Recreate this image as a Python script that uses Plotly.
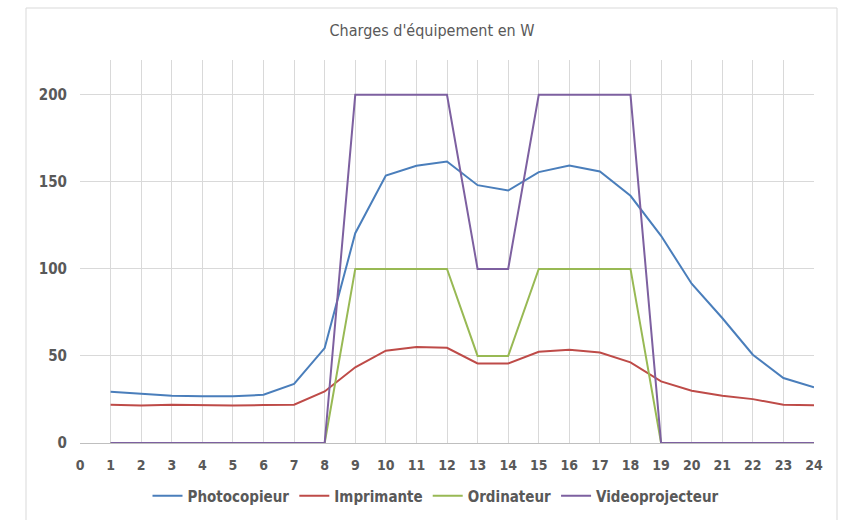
import plotly.graph_objects as go

# Hours of the day (data recorded from hour 1 to 24)
hours = list(range(1, 25))

# Equipment loads in W
photocopieur = [29.4, 28.1, 27.2, 26.8, 26.8, 27.7, 33.9, 54.5, 120.5, 153.6, 159.2, 161.7,
                148.1, 145.0, 155.6, 159.4, 156.0, 142.0, 119.0, 91.5, 71.8, 50.7, 37.3, 32.0]
imprimante = [22.0, 21.6, 22.0, 21.7, 21.5, 21.8, 22.0, 29.6, 43.5, 53.0, 55.1, 54.7,
              45.7, 45.7, 52.4, 53.6, 52.0, 46.3, 35.4, 30.0, 27.2, 25.2, 22.0, 21.7]
ordinateur = [0, 0, 0, 0, 0, 0, 0, 0, 100, 100, 100, 100,
              50, 50, 100, 100, 100, 100, 0, 0, 0, 0, 0, 0]
videoprojecteur = [0, 0, 0, 0, 0, 0, 0, 0, 200, 200, 200, 200,
                   100, 100, 200, 200, 200, 200, 0, 0, 0, 0, 0, 0]

x_ticks = list(range(0, 25))
y_ticks = [0, 50, 100, 150, 200]

series = [
    ("Photocopieur", photocopieur, "#4A7EBB"),
    ("Imprimante", imprimante, "#BE4B48"),
    ("Ordinateur", ordinateur, "#98B954"),
    ("Videoprojecteur", videoprojecteur, "#7D60A0"),
]

FONT = "DejaVu Sans Condensed, Open Sans, sans-serif"
TXT = "#595959"

fig = go.Figure()
for name, values, color in series:
    fig.add_trace(go.Scatter(x=hours, y=values, name=name, mode="lines",
                             line=dict(color=color, width=2)))

# plot-area geometry in pixels, used to place the outer frame in paper units
W, H = 841, 520
ml, mr, mt, mb = 80, 27, 60, 77
pw, ph = W - ml - mr, H - mt - mb

def px_x(p):
    return (p - ml) / pw

def px_y(p):
    return (H - mb - p) / ph

fig.add_shape(type="rect", xref="paper", yref="paper",
              x0=px_x(26), x1=px_x(837), y0=px_y(530), y1=px_y(8),
              line=dict(color="#D9D9D9", width=1), fillcolor="rgba(0,0,0,0)",
              layer="below")

fig.update_layout(
    width=W, height=H,
    margin=dict(l=ml, r=mr, t=mt, b=mb, autoexpand=False),
    paper_bgcolor="white", plot_bgcolor="white",
    font=dict(family=FONT, color=TXT),
    title=dict(text="Charges d'équipement en W", x=px_x(432), xref="paper",
               xanchor="center", y=1 - 30 / H, yanchor="middle",
               font=dict(size=16, color=TXT)),
    showlegend=True,
    legend=dict(orientation="h", x=px_x(436), xanchor="center", y=px_y(496),
                yanchor="middle", font=dict(size=15, color=TXT, weight="bold"),
                itemwidth=30, tracegroupgap=0),
    xaxis=dict(range=[0, 24], tickmode="array", tickvals=x_ticks,
               ticktext=[str(v) for v in x_ticks],
               showgrid=True, gridcolor="#D9D9D9", gridwidth=1,
               zeroline=False, showline=False, ticks="",
               tickfont=dict(size=14, color=TXT, weight="bold"),
               ticklabelstandoff=12),
    yaxis=dict(range=[0, 220], tickmode="array", tickvals=y_ticks,
               showgrid=True, gridcolor="#D9D9D9", gridwidth=1,
               zeroline=True, zerolinecolor="#BFBFBF", zerolinewidth=1,
               showline=False, ticks="",
               tickfont=dict(size=15, color=TXT, weight="bold"),
               ticklabelstandoff=12),
)

fig.write_html("out.html")
